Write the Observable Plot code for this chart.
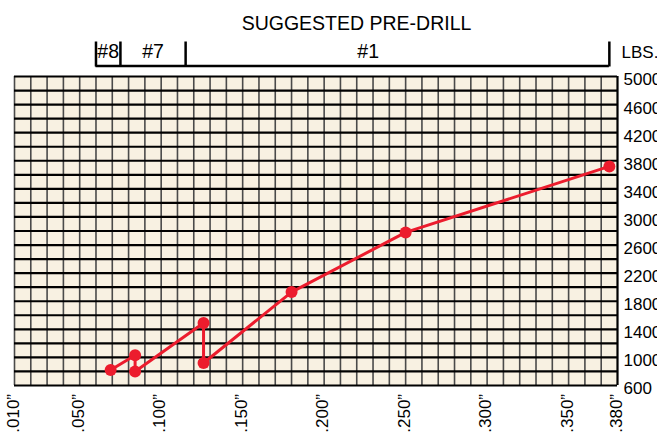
<!DOCTYPE html>
<html><head><meta charset="utf-8">
<script src="https://cdn.jsdelivr.net/npm/d3@7"></script>
<script src="https://cdn.jsdelivr.net/npm/@observablehq/plot@0.6"></script>
<style>
body{margin:0;background:#fff;}
#chart svg{font-family:"Liberation Sans",Arial,sans-serif;}
</style>
</head><body><div id="chart"></div>
<script>
// data
const sizes = [0.069, 0.084, 0.084, 0.126, 0.126, 0.18, 0.25, 0.375];
const lbs = [820, 1030, 800, 1490, 920, 1930, 2780, 3720];
const xTicks = [0.01, 0.05, 0.10, 0.15, 0.20, 0.25, 0.30, 0.35, 0.38];
const xTickLabels = [".010”", ".050”", ".100”", ".150”", ".200”", ".250”", ".300”", ".350”", ".380”"];
const yTicks = [600, 1000, 1400, 1800, 2200, 2600, 3000, 3400, 3800, 4200, 4600, 5000];
const drillNames = ["#8", "#7", "#1"];
const drillBounds = [0.06, 0.075, 0.115, 0.375];
const drillLabelAt = [0.0675, 0.095, 0.227];
const title = "SUGGESTED PRE-DRILL";
const unitLabel = "LBS.";

const points = sizes.map((s, i) => ({size: s, lbs: lbs[i]}));
const xGrid = d3.range(1, 39).map(i => i / 100);
const yGrid = d3.range(600, 5001, 200);
const red = "#ec1c2d";

const chart = Plot.plot({
  width: 657, height: 432,
  marginLeft: 14, marginRight: 40, marginTop: 76, marginBottom: 47,
  x: {domain: [0.01, 0.38], axis: null},
  y: {domain: [600, 5000], axis: null},
  style: {fontFamily: "'Liberation Sans', Arial, sans-serif", overflow: "visible", background: "transparent"},
  marks: [
    Plot.frame({fill: "#f8f1e2", stroke: null}),
    Plot.ruleX(xGrid, {x: d => d, stroke: "#4a4a4a", strokeWidth: 1.6}),
    Plot.ruleX([xTicks[xTicks.length - 1]], {x: d => d, stroke: "#000", strokeWidth: 2}),
    Plot.ruleY(yGrid, {y: d => d, stroke: "#000", strokeWidth: 2.2}),
    Plot.line(points, {x: "size", y: "lbs", stroke: red, strokeWidth: 3, curve: "linear"}),
    Plot.dot(points, {x: "size", y: "lbs", r: 6, fill: red, stroke: null}),
    // y labels
    Plot.text(yTicks, {y: d => d, text: d => String(d), frameAnchor: "right", textAnchor: "start", dx: 6, dy: 3.5, fontSize: 17, fill: "#000"}),
    // x labels
    Plot.text(xTicks, {x: d => d, text: (d, i) => xTickLabels[i], frameAnchor: "bottom", rotate: -90, textAnchor: "end", dy: 8.5, dx: 4, fontSize: 17, fill: "#000"}),
    // bracket
    Plot.ruleX(drillBounds, {x: d => d, insetTop: -34.5, insetBottom: 318.5, stroke: "#000", strokeWidth: 2.5}),
    Plot.ruleY([yTicks[yTicks.length - 1]], {y: d => d, x1: drillBounds[0], x2: drillBounds[drillBounds.length - 1], dy: -10.5, stroke: "#000", strokeWidth: 2.5}),
    Plot.text(drillNames, {x: (d, i) => drillLabelAt[i], text: d => d, frameAnchor: "top", lineAnchor: "bottom", dy: -19, fontSize: 19.5, fill: "#000"}),
    Plot.text([unitLabel], {text: d => d, frameAnchor: "top-right", textAnchor: "start", lineAnchor: "bottom", dx: 4, dy: -19, fontSize: 17, fill: "#000"}),
    Plot.text([title], {text: d => d, frameAnchor: "top", lineAnchor: "bottom", dx: 40.5, dy: -47, fontSize: 19.5, fill: "#000"})
  ]
});
document.getElementById("chart").appendChild(chart);
</script>
</body></html>
